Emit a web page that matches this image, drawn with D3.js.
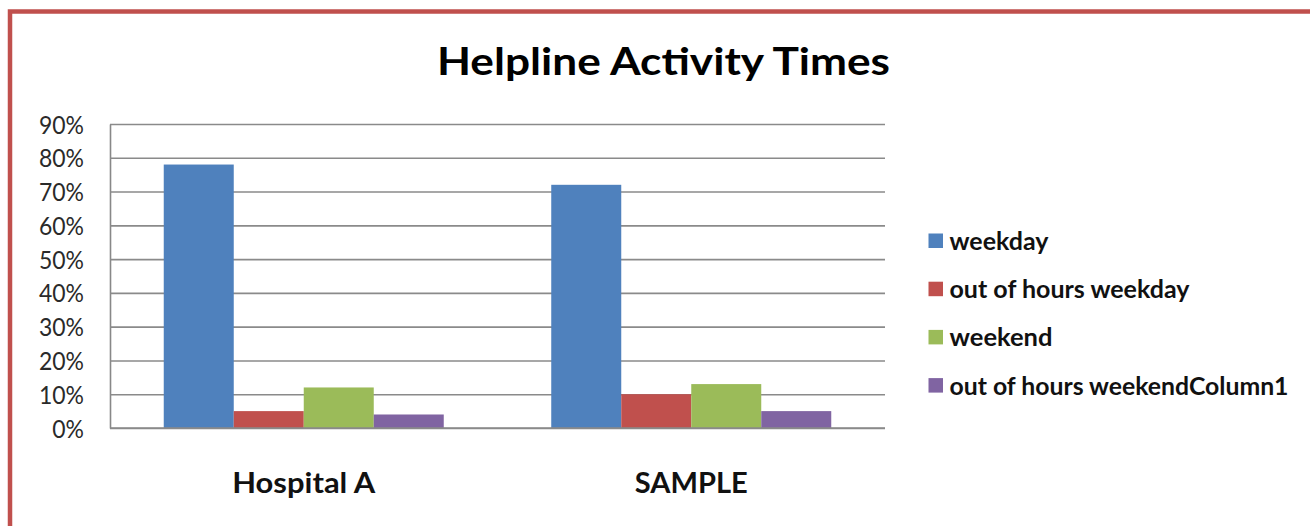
<!DOCTYPE html>
<html>
<head>
<meta charset="utf-8">
<script src="https://cdn.jsdelivr.net/npm/d3@7"></script>
<style>
  html, body { margin: 0; padding: 0; background: #fff; }
  svg { display: block; }
  text { font-family: Lato, "Open Sans", sans-serif; }
</style>
</head>
<body>
<svg id="chart" width="1310" height="526"></svg>
<script>
const categories = ["Hospital A", "SAMPLE"];
const seriesNames = ["weekday", "out of hours weekday", "weekend", "out of hours weekendColumn1"];
const weekday = [0.78, 0.72];
const outOfHoursWeekday = [0.05, 0.10];
const weekend = [0.12, 0.13];
const outOfHoursWeekend = [0.04, 0.05];
const seriesColors = ["#4F81BD", "#C0504D", "#9BBB59", "#8064A2"];
const tickValues = [0, 0.1, 0.2, 0.3, 0.4, 0.5, 0.6, 0.7, 0.8, 0.9];
const title = "Helpline Activity Times";

const seriesValues = [weekday, outOfHoursWeekday, weekend, outOfHoursWeekend];

const svg = d3.select("#chart");

// red frame
svg.append("rect")
  .attr("x", 10).attr("y", 11.5)
  .attr("width", 1400).attr("height", 600)
  .attr("fill", "none")
  .attr("stroke", "#C0504D")
  .attr("stroke-width", 4.5);

const plot = { left: 110, right: 885, top: 124, bottom: 428 };

const y = d3.scaleLinear().domain([0, 0.9]).range([plot.bottom, plot.top]);
const x0 = d3.scaleBand().domain(categories).range([plot.left, plot.right])
  .paddingInner(0.2774).paddingOuter(0.1387);
const x1 = d3.scaleBand().domain(seriesNames).range([0, x0.bandwidth()]).padding(0);

function fit(sel, targetWidth) {
  sel.each(function() {
    const w = this.getComputedTextLength();
    d3.select(this).attr("textLength", targetWidth).attr("lengthAdjust", "spacingAndGlyphs");
  });
}

// y axis with gridlines
const yAxis = d3.axisLeft(y)
  .tickValues(tickValues)
  .tickFormat(d3.format(".0%"))
  .tickSizeInner(-(plot.right - plot.left))
  .tickSizeOuter(0)
  .tickPadding(26);

const gy = svg.append("g").attr("transform", `translate(${plot.left},0)`).call(yAxis);
gy.select(".domain").attr("stroke", "#888").attr("stroke-width", 1.6);
gy.selectAll(".tick line").attr("stroke", "#8a8a8a").attr("stroke-width", 1.6);
const tickTexts = gy.selectAll(".tick text")
  .attr("font-family", "Lato, sans-serif")
  .attr("font-size", 25)
  .attr("fill", "#2a2a2a")
  .attr("dy", "0.36em");
// scale tick labels horizontally to match reference width of "90%" (~45px)
let refW = 0;
tickTexts.each(function(d) { if (d === 0.9) refW = this.getComputedTextLength(); });
const kTick = refW ? 45 / refW : 1;
tickTexts.each(function() {
  const w = this.getComputedTextLength();
  d3.select(this).attr("textLength", w * kTick).attr("lengthAdjust", "spacingAndGlyphs");
});

// bars
const groups = svg.append("g").selectAll("g")
  .data(categories)
  .join("g")
  .attr("transform", c => `translate(${x0(c)},0)`);

groups.selectAll("rect")
  .data((c, ci) => seriesNames.map((s, si) => ({ s, si, v: seriesValues[si][ci] })))
  .join("rect")
  .attr("x", d => x1(d.s))
  .attr("width", x1.bandwidth())
  .attr("y", d => y(d.v))
  .attr("height", d => y(0) - y(d.v))
  .attr("fill", d => seriesColors[d.si]);

// baseline over bars
svg.append("line")
  .attr("x1", plot.left).attr("x2", plot.right)
  .attr("y1", y(0)).attr("y2", y(0))
  .attr("stroke", "#8a8a8a").attr("stroke-width", 1.6);

// category labels
const catWidths = { "Hospital A": 143, "SAMPLE": 113 };
svg.append("g").selectAll("text")
  .data(categories)
  .join("text")
  .attr("x", c => x0(c) + x0.bandwidth() / 2)
  .attr("y", 493)
  .attr("text-anchor", "middle")
  .attr("font-size", 29)
  .attr("font-weight", "bold")
  .attr("fill", "#111")
  .text(c => c)
  .attr("textLength", c => catWidths[c])
  .attr("lengthAdjust", "spacingAndGlyphs");

// title
svg.append("text")
  .attr("x", 663.5)
  .attr("y", 74.5)
  .attr("text-anchor", "middle")
  .attr("font-size", 38)
  .attr("font-weight", "bold")
  .attr("fill", "#000")
  .text(title)
  .attr("textLength", 453)
  .attr("lengthAdjust", "spacingAndGlyphs");

// legend
const legendWidths = [99, 240, 103, 339];
const legend = svg.append("g").selectAll("g")
  .data(seriesNames)
  .join("g")
  .attr("transform", (d, i) => `translate(928.5,${233.5 + i * 48.2})`);
legend.append("rect")
  .attr("width", 14.5).attr("height", 14.5)
  .attr("fill", (d, i) => seriesColors[i]);
legend.append("text")
  .attr("x", 21)
  .attr("y", 16.5)
  .attr("font-size", 25)
  .attr("font-weight", "bold")
  .attr("fill", "#111")
  .text(d => d)
  .attr("textLength", (d, i) => legendWidths[i])
  .attr("lengthAdjust", "spacingAndGlyphs");
</script>
</body>
</html>
